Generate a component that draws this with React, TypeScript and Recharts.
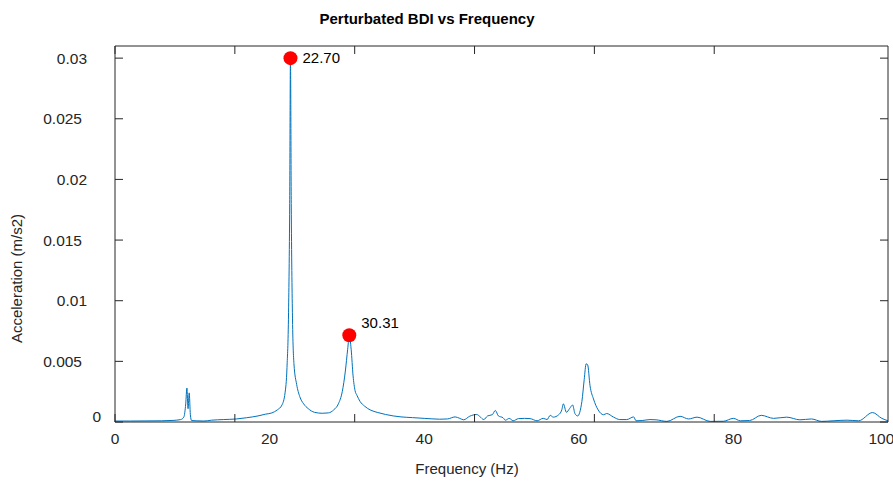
import React from "react";
import {
  ComposedChart,
  Line,
  XAxis,
  YAxis,
  ReferenceDot,
} from "recharts";

// frequency (Hz) and acceleration (m/s2)
const freq = [
  0, 2, 4, 6, 7.5, 8.5, 8.9, 9.15, 9.3, 9.45, 9.6, 9.75, 9.9, 10.5, 11.5, 12.5, 14,
  15.7, 17, 18.5, 19.5, 20.3, 21, 21.6, 22.0, 22.25, 22.45, 22.6, 22.7, 22.8, 22.95,
  23.15, 23.5, 23.9, 24.4, 25, 25.8, 26.8, 27.6, 28.3, 28.9, 29.4, 29.8, 30.1, 30.31,
  30.55, 30.8, 31.05, 31.3, 31.7, 32.3, 33, 34, 35, 36, 37, 38.5, 40, 41, 42, 43, 44,
  44.6, 45.1, 45.9, 46.8, 47.2, 47.7, 48.2, 48.8, 49.2, 49.6, 50.2, 50.5, 51, 51.5,
  52.2, 53, 53.7, 54.6, 55.4, 55.9, 56.3, 56.7, 57.4, 57.8, 58.0, 58.4, 58.8, 59.2,
  59.5, 59.85, 60.4, 60.7, 60.95, 61.15, 61.45, 61.9, 62.5, 63.2, 63.6, 64.5, 65.3,
  66.2, 67.1, 67.4, 68.2, 69.2, 70, 71.4, 73.1, 74.2, 75.3, 77, 78.7, 80, 80.9, 82.1,
  83.6, 85.2, 86.9, 88.6, 90.1, 91.4, 92.9, 94.7, 96.2, 98, 99.2, 100,
];
const accel = [
  0.00008, 0.00008, 0.00009, 0.0001, 0.00013, 0.0002, 0.0004, 0.0015, 0.0028, 0.0011,
  0.0024, 0.0006, 0.00012, 0.0001, 0.00008, 0.00015, 0.0002, 0.00025, 0.00035, 0.0005,
  0.00065, 0.00075, 0.001, 0.0014, 0.0024, 0.0045, 0.009, 0.018, 0.03, 0.018, 0.009,
  0.0048, 0.0031, 0.0021, 0.0015, 0.0011, 0.0008, 0.00072, 0.00075, 0.001, 0.0015,
  0.0025, 0.0042, 0.006, 0.00715, 0.006, 0.0038, 0.0026, 0.0022, 0.0017, 0.0013, 0.001,
  0.00078, 0.00062, 0.0005, 0.00042, 0.00036, 0.0003, 0.00026, 0.00023, 0.00025,
  0.00042, 0.0003, 0.00018, 0.00048, 0.00062, 0.00045, 0.0002, 0.0005, 0.0006, 0.00095,
  0.0005, 0.00035, 0.00015, 0.0003, 0.0001, 0.00028, 0.0003, 0.00028, 0.0001, 0.0003,
  0.0002, 0.00055, 0.0004, 0.0006, 0.001, 0.0015, 0.0008, 0.0011, 0.0014, 0.0007,
  0.0005, 0.0017, 0.0035, 0.0048, 0.0047, 0.003, 0.0019, 0.001, 0.0006, 0.0007, 0.0004,
  0.0002, 0.0002, 0.00042, 0.0001, 0.00012, 0.0002, 0.00018, 0.00005, 0.00047, 0.00025,
  0.0004, 0.00005, 0.00006, 0.0003, 0.0001, 0.00012, 0.00055, 0.0003, 0.0004, 0.00018,
  0.00025, 0.00005, 0.0001, 0.00015, 0.0001, 0.00078, 0.0003, 0.0001,
];

const peakFreq = [22.7, 30.31];
const peakAccel = [0.03, 0.00715];
const peakText = ["22.70", "30.31"];

const xTicks = [0, 20, 40, 60, 80, 100];
const yTicks = [0, 0.005, 0.01, 0.015, 0.02, 0.025, 0.03];

const data = freq.map((f, i) => ({ f, a: accel[i] }));

const AXIS = "#262626";
const FONT = "'Liberation Sans', Arial, sans-serif";

function YTick(props: any) {
  const { x, y, payload } = props;
  const label = String(payload.value);
  // the exported figure places its y labels unevenly; mimic that
  let dx = 0;
  if (payload.value === 0) dx = 14;
  else if (label.length === 5) dx = -5;
  return (
    <text
      x={x + dx}
      y={payload.value === 0 ? y - 6 : y}
      dy="0.355em"
      textAnchor="end"
      fontSize={15.5}
      fill={AXIS}
      fontFamily={FONT}
    >
      {label}
    </text>
  );
}

// tick lines only, no label
function NoTick() {
  return null;
}

function PeakLabel(props: any) {
  const { viewBox, text, lift } = props;
  const cx = viewBox.x + viewBox.width / 2;
  const cy = viewBox.y + viewBox.height / 2;
  return (
    <text x={cx + 12} y={cy - lift} dy="0.355em" fontSize={15} fill="#000" fontFamily={FONT}>
      {text}
    </text>
  );
}

export default function App() {
  return (
    <div
      style={{
        position: "absolute",
        left: 0,
        top: 0,
        width: 893,
        height: 482,
        background: "#fff",
        fontFamily: FONT,
      }}
    >
      <div
        style={{
          position: "absolute",
          left: 0,
          width: 854,
          top: 10,
          textAlign: "center",
          fontWeight: "bold",
          fontSize: 15,
          color: "#000",
        }}
      >
        Perturbated BDI vs Frequency
      </div>
      <ComposedChart
        width={893}
        height={482}
        data={data}
        margin={{ top: 46, right: 5, bottom: 59, left: 114 }}
      >
        <XAxis
          xAxisId="x"
          dataKey="f"
          type="number"
          domain={[0, 100]}
          ticks={xTicks}
          height={1}
          tickLine={false}
          tickSize={0}
          tickMargin={11}
          axisLine={{ stroke: AXIS }}
          tick={{ fontSize: 15.5, fill: AXIS, fontFamily: FONT }}
        />
        <XAxis
          xAxisId="xin"
          type="number"
          domain={[0, 100]}
          ticks={xTicks}
          allowDataOverflow
          mirror
          height={1}
          tick={<NoTick />}
          tickSize={8}
          axisLine={false}
          tickLine={{ stroke: AXIS }}
        />
        <XAxis
          xAxisId="top"
          orientation="top"
          type="number"
          domain={[0, 100]}
          ticks={xTicks}
          allowDataOverflow
          mirror
          height={1}
          tick={<NoTick />}
          tickSize={8}
          axisLine={{ stroke: AXIS }}
          tickLine={{ stroke: AXIS }}
        />
        <YAxis
          yAxisId="y"
          type="number"
          domain={[0, 0.031]}
          ticks={yTicks}
          width={1}
          tickLine={false}
          tickSize={0}
          tickMargin={28}
          axisLine={{ stroke: AXIS }}
          tick={<YTick />}
        />
        <YAxis
          yAxisId="yin"
          type="number"
          domain={[0, 0.031]}
          ticks={yTicks}
          allowDataOverflow
          mirror
          width={1}
          tick={<NoTick />}
          tickSize={8}
          axisLine={false}
          tickLine={{ stroke: AXIS }}
        />
        <YAxis
          yAxisId="right"
          orientation="right"
          type="number"
          domain={[0, 0.031]}
          ticks={yTicks}
          allowDataOverflow
          mirror
          width={1}
          tick={<NoTick />}
          tickSize={8}
          axisLine={{ stroke: AXIS }}
          tickLine={{ stroke: AXIS }}
        />
        <Line
          xAxisId="x"
          yAxisId="y"
          dataKey="a"
          type="monotone"
          stroke="#0072BD"
          strokeWidth={1}
          dot={false}
          isAnimationActive={false}
        />
        {peakFreq.map((f, i) => (
          <ReferenceDot
            key={f}
            xAxisId="x"
            yAxisId="y"
            x={f}
            y={peakAccel[i]}
            r={7}
            fill="#FF0000"
            stroke="none"
            label={<PeakLabel text={peakText[i]} lift={i === 0 ? 0 : 13} />}
          />
        ))}
      </ComposedChart>
      <div
        style={{
          position: "absolute",
          left: 367,
          width: 200,
          top: 460,
          textAlign: "center",
          fontSize: 15,
          color: AXIS,
        }}
      >
        Frequency (Hz)
      </div>
      <div
        style={{
          position: "absolute",
          left: 16,
          top: 279,
          width: 200,
          marginLeft: -100,
          marginTop: -9,
          textAlign: "center",
          fontSize: 15,
          color: AXIS,
          transform: "rotate(-90deg)",
        }}
      >
        Acceleration (m/s2)
      </div>
    </div>
  );
}
